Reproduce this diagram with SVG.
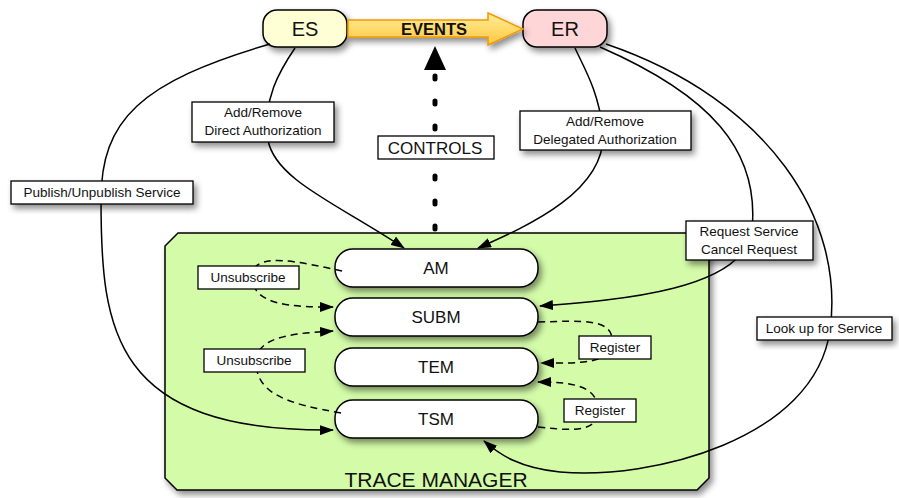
<svg xmlns="http://www.w3.org/2000/svg" width="899" height="498" viewBox="0 0 899 498">
<defs>
<filter id="sh" x="-20%" y="-20%" width="150%" height="160%">
<feDropShadow dx="3" dy="4" stdDeviation="3" flood-color="#000" flood-opacity="0.45"/>
</filter>
<linearGradient id="evg" x1="0" y1="0" x2="0" y2="1">
<stop offset="0" stop-color="#FFEE99"/>
<stop offset="1" stop-color="#FFC640"/>
</linearGradient>
<marker id="ah" viewBox="0 0 14 10" refX="13" refY="5" markerWidth="14" markerHeight="10" markerUnits="userSpaceOnUse" orient="auto">
<path d="M0,0 L14,5 L0,10 Z" fill="#000"/>
</marker>
</defs>
<style>
.node{fill:#fff;stroke:#000;stroke-width:1.5;filter:url(#sh)}
.ntext{font-family:"Liberation Sans",Arial,sans-serif;font-size:17px;text-anchor:middle;fill:#111}
.lbl{fill:#fff;stroke:#000;stroke-width:1.3;filter:url(#sh)}
.ltext{font-family:"Liberation Sans",Arial,sans-serif;font-size:13.5px;text-anchor:middle;fill:#111}
.c{fill:none;stroke:#000;stroke-width:1.5}
.d{fill:none;stroke:#000;stroke-width:1.5;stroke-dasharray:7 5}
</style>
<rect width="899" height="498" fill="#fff"/>

<g id="trace-manager">
<polygon points="178,233 709,233 709,478 697,490 177,490 165,478 165,246" fill="#D3FBA8" stroke="#000" stroke-width="1.5" filter="url(#sh)"/>
<text x="436" y="487" class="ntext" style="font-size:21px">TRACE MANAGER</text>
</g>

<g id="ES">
<rect x="263" y="10" width="84" height="37" rx="14" class="node" style="fill:#FFFFD6"/>
<text x="305" y="36" class="ntext" style="font-size:20px">ES</text>
</g>
<g id="ER">
<rect x="523" y="10" width="84" height="37" rx="14" class="node" style="fill:#FFD6D8"/>
<text x="565" y="36" class="ntext" style="font-size:20px">ER</text>
</g>

<g id="AM">
<rect x="335" y="249" width="203" height="38" rx="18" class="node"/>
<text x="436" y="274" class="ntext">AM</text>
</g>
<g id="SUBM">
<rect x="335" y="298" width="203" height="38" rx="18" class="node"/>
<text x="436" y="323" class="ntext">SUBM</text>
</g>
<g id="TEM">
<rect x="335" y="348" width="203" height="38" rx="18" class="node"/>
<text x="436" y="373" class="ntext">TEM</text>
</g>
<g id="TSM">
<rect x="335" y="400" width="203" height="38" rx="18" class="node"/>
<text x="436" y="425" class="ntext">TSM</text>
</g>

<g id="connectors">
<g id="events">
<path d="M348,20 L488,20 L488,13 L523,29 L488,45 L488,37 L348,37 Z" fill="url(#evg)" stroke="#F09A00" stroke-width="1.5" filter="url(#sh)"/>
<text x="434" y="34.5" font-family="'Liberation Sans',Arial,sans-serif" font-size="16.5" font-weight="bold" text-anchor="middle" fill="#111">EVENTS</text>
</g>
<g id="controls">
<line x1="435" y1="229" x2="435" y2="74" stroke="#000" stroke-width="5" stroke-linecap="round" stroke-dasharray="3 22"/>
<path d="M424,70 L435,46 L446,70 Z" fill="#000"/>
</g>
<path class="c" d="M270,44 C140,82 101,120 101,200 C101,330 112,432 333,430" marker-end="url(#ah)"/>
<path class="c" d="M295,48 C280,70 262,100 268,140 C275,180 340,205 404,248" marker-end="url(#ah)"/>
<path class="c" d="M575,48 C585,70 598,90 603,130 C608,190 530,225 478,248" marker-end="url(#ah)"/>
<path class="c" d="M600,47 C710,95 760,150 752,230 C745,290 620,300 540,306" marker-end="url(#ah)"/>
<path class="c" d="M606,44 C770,100 845,220 830,330 C815,440 650,480 560,472 C520,468 500,455 484,441" marker-end="url(#ah)"/>
<path class="d" d="M342,271 C300,262 250,250 252,278 C254,305 290,307 333,307" marker-end="url(#ah)"/>
<path class="d" d="M341,413 C290,404 255,395 256,360 C258,335 300,333 333,331" marker-end="url(#ah)"/>
<path class="d" d="M538,322 C580,321 612,318 612,340 C612,365 580,363 541,363" marker-end="url(#ah)"/>
<path class="d" d="M538,427 C580,432 598,430 598,410 C598,385 570,382 538,382" marker-end="url(#ah)"/>
</g>

<g id="labels">
<g id="lbl-direct">
<rect x="192" y="102" width="142" height="40" class="lbl"/>
<text x="263" y="117" class="ltext">Add/Remove</text>
<text x="263" y="135" class="ltext">Direct Authorization</text>
</g>
<g id="lbl-publish">
<rect x="11" y="181" width="182" height="23" class="lbl"/>
<text x="102" y="197" class="ltext">Publish/Unpublish Service</text>
</g>
<g id="lbl-controls">
<rect x="378" y="136" width="116" height="23" class="lbl" style="filter:none"/>
<text x="435" y="154" class="ntext">CONTROLS</text>
</g>
<g id="lbl-delegated">
<rect x="520" y="111" width="171" height="39" class="lbl"/>
<text x="605" y="126" class="ltext">Add/Remove</text>
<text x="605" y="144" class="ltext">Delegated Authorization</text>
</g>
<g id="lbl-request">
<rect x="686" y="221" width="127" height="39" class="lbl"/>
<text x="749" y="236" class="ltext">Request Service</text>
<text x="749" y="254" class="ltext">Cancel Request</text>
</g>
<g id="lbl-lookup">
<rect x="757" y="317" width="135" height="23" class="lbl"/>
<text x="824" y="333" class="ltext">Look up for Service</text>
</g>
<g id="lbl-unsub1">
<rect x="198" y="266" width="101" height="23" class="lbl" style="filter:none"/>
<text x="248" y="282" class="ltext">Unsubscribe</text>
</g>
<g id="lbl-unsub2">
<rect x="204" y="349" width="101" height="23" class="lbl" style="filter:none"/>
<text x="254" y="365" class="ltext">Unsubscribe</text>
</g>
<g id="lbl-reg1">
<rect x="579" y="336" width="72" height="23" class="lbl" style="filter:none"/>
<text x="615" y="352" class="ltext">Register</text>
</g>
<g id="lbl-reg2">
<rect x="564" y="399" width="72" height="23" class="lbl" style="filter:none"/>
<text x="600" y="415" class="ltext">Register</text>
</g>
</g>
</svg>
